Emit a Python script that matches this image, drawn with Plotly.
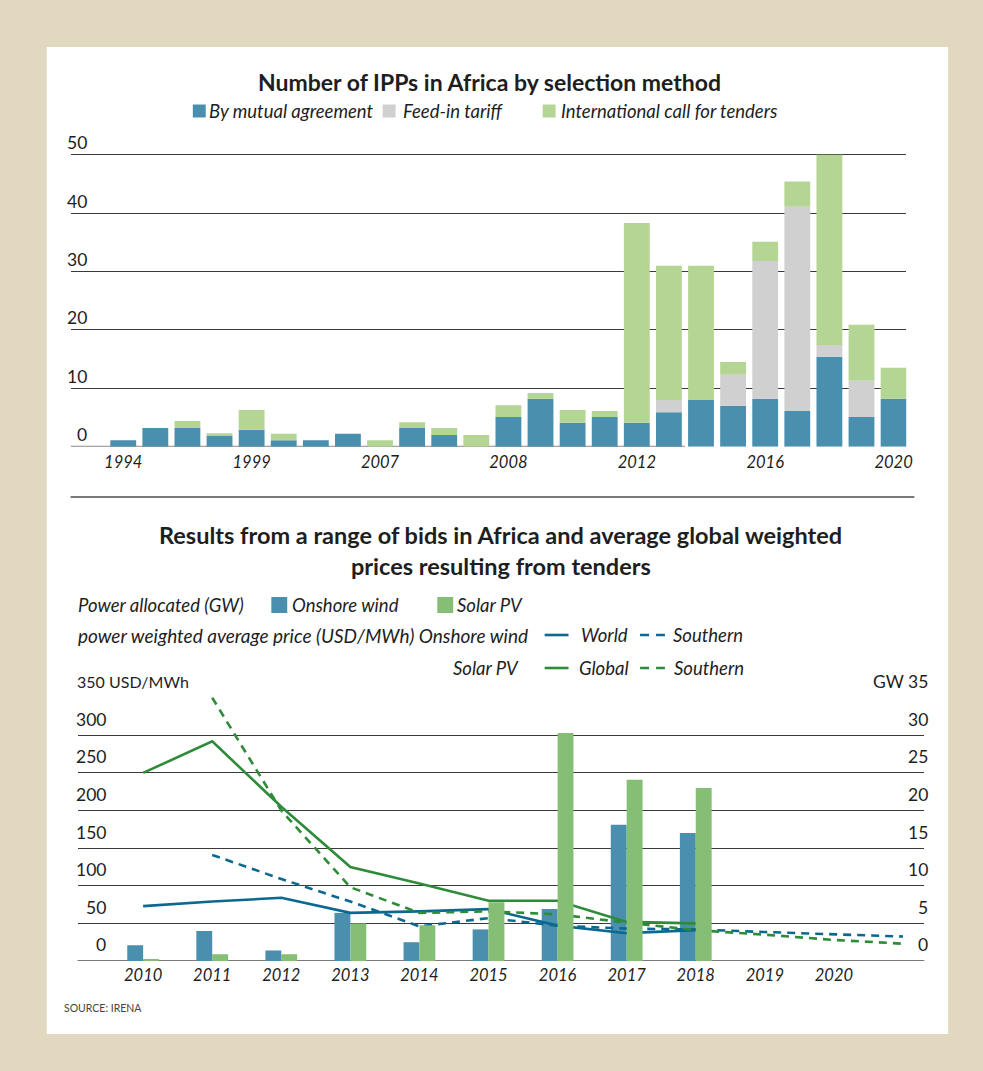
import numpy as np
import plotly.graph_objects as go

W, H = 983, 1071

# ---------------- Number of IPPs in Africa by selection method ----------------
ipp_tick_labels = ["1994", "1999", "2007", "2008", "2012", "2016", "2020"]
mutual_agreement = [1.1, 3.2, 3.2, 1.9, 2.9, 1.1, 1.1, 2.2, 0, 3.2, 2.0, 0,
                    5.1, 8.2, 4.1, 5.1, 4.1, 5.9, 8.0, 7.0, 8.2, 6.1, 15.4, 5.1, 8.2]
feed_in_tariff = [0, 0, 0, 0, 0, 0, 0, 0, 0, 0, 0, 0,
                  0, 0, 0, 0, 0, 2.1, 0, 5.3, 23.6, 35.0, 2.0, 6.2, 0]
call_for_tenders = [0, 0, 1.2, 0.4, 3.4, 1.1, 0, 0, 1.1, 1.0, 1.2, 2.0,
                    2.0, 1.0, 2.2, 1.0, 34.2, 23.0, 23.0, 2.2, 3.3, 4.3, 32.6, 9.6, 5.3]
ipp_ticks = [0, 10, 20, 30, 40, 50]

# ---------------- Bids in Africa vs. global weighted prices ----------------
bid_years = [2010, 2011, 2012, 2013, 2014, 2015, 2016, 2017, 2018, 2019, 2020, 2021]
year_labels = ["2010", "2011", "2012", "2013", "2014", "2015", "2016", "2017", "2018", "2019", "2020"]
wind_gw = [2.1, 4.0, 1.4, 6.4, 2.5, 4.2, 6.9, 18.1, 17.0, None, None, None]
solar_gw = [0.25, 0.9, 0.9, 5.0, 4.75, 7.8, 30.3, 24.1, 23.0, None, None, None]
wind_world_price = [73, 79, 84, 64, 66, 69, 47, 37, 41, None, None, None]
wind_southern_price = [None, 141, 109, 79, 46, 57, 47, 43, 42, 38.5, 35, 32.5]
solar_global_price = [250, 292, 205, 125, 103, 80, 80, 52, 50, None, None, None]
solar_southern_price = [None, 350, 200, 98, 64, 66, 62, 51, 41, 35, 28, 23]
usd_ticks = [0, 50, 100, 150, 200, 250, 300, 350]
gw_ticks = [0, 5, 10, 15, 20, 25, 30, 35]

# ---------------- styling ----------------
FONT = "Lato"
INK = "#1e1e1e"
BLUE = "#4a8fad"
GREY = "#d0d0d0"
PALE_GREEN = "#b5d595"
GREEN = "#85be75"
LINE_BLUE = "#0b6890"
LINE_GREEN = "#2e8b3a"
GRID = "#3a3a3a"
BEIGE = "#e2d8bf"
LEG = 18.5      # legend text size
NUM = 17.5      # value label size


def px(x):
    return x / W


def py(y):
    return 1 - y / H


fig = go.Figure()

# stacked IPP bars (bases accumulated from the series)
slots = np.arange(len(mutual_agreement))
m = np.array(mutual_agreement, dtype=float)
f = np.array(feed_in_tariff, dtype=float)
t = np.array(call_for_tenders, dtype=float)
bar_w = 0.805
for vals, base, color, name in [
    (m, np.zeros_like(m), BLUE, "By mutual agreement"),
    (f, m, GREY, "Feed-in tariff"),
    (t, m + f, PALE_GREEN, "International call for tenders"),
]:
    fig.add_trace(go.Bar(x=slots, y=vals, base=base, width=bar_w, marker_color=color,
                         marker_line_width=0, name=name, xaxis="x", yaxis="y"))

# bid bars: wind left of the year, solar right of it
gw_w = 0.23
fig.add_trace(go.Bar(x=bid_years, y=wind_gw, width=gw_w, offset=-gw_w, marker_color=BLUE,
                     marker_line_width=0, name="Onshore wind", xaxis="x2", yaxis="y2"))
fig.add_trace(go.Bar(x=bid_years, y=solar_gw, width=gw_w, offset=0, marker_color=GREEN,
                     marker_line_width=0, name="Solar PV", xaxis="x2", yaxis="y4"))

dash = "8px,6px"
for vals, color, d, name in [
    (wind_world_price, LINE_BLUE, "solid", "World"),
    (wind_southern_price, LINE_BLUE, dash, "Southern"),
    (solar_global_price, LINE_GREEN, "solid", "Global"),
    (solar_southern_price, LINE_GREEN, dash, "Southern"),
]:
    fig.add_trace(go.Scatter(x=bid_years, y=vals, mode="lines", name=name,
                             line=dict(color=color, width=2.6, dash=d),
                             xaxis="x2", yaxis="y3", cliponaxis=True))

tick_font = dict(family=FONT, size=16.5, color=INK, style="italic")

# small headroom so the top gridline is drawn
top_pad = 0.3
gw_pad = 0.1
fig.update_layout(
    width=W, height=H,
    margin=dict(l=0, r=0, t=0, b=0),
    paper_bgcolor=BEIGE, plot_bgcolor="rgba(0,0,0,0)",
    barmode="overlay", showlegend=False,
    font=dict(family=FONT, color=INK),
    xaxis=dict(domain=[px(71), px(912)], range=[-1.641, 24.40],
               tickvals=list(slots[::4]), ticktext=ipp_tick_labels, tickfont=tick_font,
               showgrid=False, zeroline=False, showline=False, ticks="",
               ticklabelstandoff=4, anchor="y"),
    yaxis=dict(domain=[py(446.7), py(154.7 - top_pad * 5.84)], range=[0, 50 + top_pad],
               tickvals=ipp_ticks[1:], showticklabels=False, showgrid=True,
               gridcolor=GRID, gridwidth=1.3, zeroline=False, anchor="x"),
    xaxis2=dict(domain=[px(78), px(930)], range=[2009.05, 2021.309],
                tickvals=bid_years[:len(year_labels)], ticktext=year_labels, tickfont=tick_font,
                showgrid=False, zeroline=False, showline=False, ticks="",
                ticklabelstandoff=2, anchor="y2"),
    yaxis2=dict(domain=[py(961), py(697.7 - gw_pad * 7.523)], range=[0, 35 + gw_pad],
                tickvals=gw_ticks, showticklabels=False, showgrid=True, gridcolor=GRID,
                gridwidth=1.3, zeroline=False, anchor="x2"),
    yaxis3=dict(range=[0, 350 + gw_pad * 10], overlaying="y2", anchor="x2", side="left",
                showgrid=False, showticklabels=False, zeroline=False, visible=False),
    yaxis4=dict(range=[0, 35 + gw_pad], overlaying="y2", anchor="x2", side="right",
                showgrid=False, showticklabels=False, zeroline=False, visible=False),
)

shapes = [
    # white card
    dict(type="rect", xref="paper", yref="paper", x0=px(47), x1=px(954), y0=py(1034), y1=py(47),
         fillcolor="white", line_width=0, layer="below"),
    # top chart baseline
    dict(type="line", xref="x", yref="y", x0=-1.641, x1=17.5, y0=0, y1=0,
         line=dict(color="#8a8a8a", width=2), layer="below"),
    # separator between the two charts
    dict(type="line", xref="paper", yref="paper", x0=px(71), x1=px(920), y0=py(497), y1=py(497),
         line=dict(color="#7a7a7a", width=2)),
    # bottom chart baseline
    dict(type="line", xref="paper", yref="y2", x0=px(78), x1=px(930), y0=0, y1=0,
         line=dict(color="#7a7a7a", width=2), layer="below"),
]

annotations = []


def text(x, y, s, size=LEG, anchor="left", italic=False, bold=False, color=INK, yanchor="middle"):
    annotations.append(dict(
        x=px(x), y=py(y), xref="paper", yref="paper", text=s, showarrow=False,
        xanchor=anchor, yanchor=yanchor,
        font=dict(family=FONT, size=size, color=color,
                  style="italic" if italic else "normal",
                  weight="bold" if bold else "normal")))


def square(x0, x1, y0, y1, color):
    shapes.append(dict(type="rect", xref="paper", yref="paper", x0=px(x0), x1=px(x1),
                       y0=py(y1), y1=py(y0), fillcolor=color, line_width=0))


def seg(x0, x1, y, color, d="solid"):
    shapes.append(dict(type="line", xref="paper", yref="paper", x0=px(x0), x1=px(x1),
                       y0=py(y), y1=py(y), line=dict(color=color, width=2.6, dash=d)))


# titles
text(493, 82, "Number of IPPs in Africa by selection method", size=23, anchor="center", bold=True)
text(504, 535, "Results from a range of bids in Africa and average global weighted",
     size=23.5, anchor="center", bold=True)
text(504, 566, "prices resulting from tenders", size=23.5, anchor="center", bold=True)

# top legend
square(194, 207, 104.5, 117.5, BLUE)
text(208, 111, "By mutual agreement", italic=True)
square(385, 398, 104.5, 117.5, GREY)
text(403, 111, "Feed-in tariff", italic=True)
square(546, 559, 104.5, 117.5, PALE_GREEN)
text(562, 111, "International call for tenders", italic=True)

# bottom legend
text(76, 605, "Power allocated (GW)", italic=True)
square(273, 289, 597, 613, BLUE)
text(292, 605, "Onshore wind", italic=True)
square(440, 456, 597, 613, GREEN)
text(458, 605, "Solar PV", italic=True)
text(76, 635, "power weighted average price (USD/MWh) Onshore wind", size=19, italic=True)
seg(548, 572, 635, LINE_BLUE)
text(583, 635, "World", italic=True)
seg(644, 669, 635, LINE_BLUE, "9px,7px")
text(675, 635, "Southern", italic=True)
text(454, 668, "Solar PV", italic=True)
seg(548, 572, 668, LINE_GREEN)
text(581, 668, "Global", italic=True)
seg(644, 669, 668, LINE_GREEN, "9px,7px")
text(676, 668, "Southern", italic=True)

# value labels sitting above the gridlines
for v in ipp_ticks:
    annotations.append(dict(x=px(90), y=v, xref="paper", yref="y", text=str(v), showarrow=False,
                            xanchor="right", yanchor="middle", yshift=12,
                            font=dict(family=FONT, size=NUM, color=INK)))
for v in usd_ticks:
    last = v == usd_ticks[-1]
    annotations.append(dict(x=px(75) if last else px(109), y=v, xref="paper", yref="y3",
                            text=f"{v} USD/MWh" if last else str(v), showarrow=False,
                            xanchor="left" if last else "right", yanchor="middle", yshift=16,
                            font=dict(family=FONT, size=16 if last else NUM, color=INK)))
for v in gw_ticks:
    last = v == gw_ticks[-1]
    annotations.append(dict(x=px(936), y=v, xref="paper", yref="y2",
                            text=f"GW {v}" if last else str(v), showarrow=False,
                            xanchor="right", yanchor="middle", yshift=16,
                            font=dict(family=FONT, size=NUM, color=INK)))

text(62, 1008, "SOURCE: IRENA", size=10.5, color="#444")

fig.update_layout(shapes=shapes, annotations=annotations)
fig.write_html("out.html")
